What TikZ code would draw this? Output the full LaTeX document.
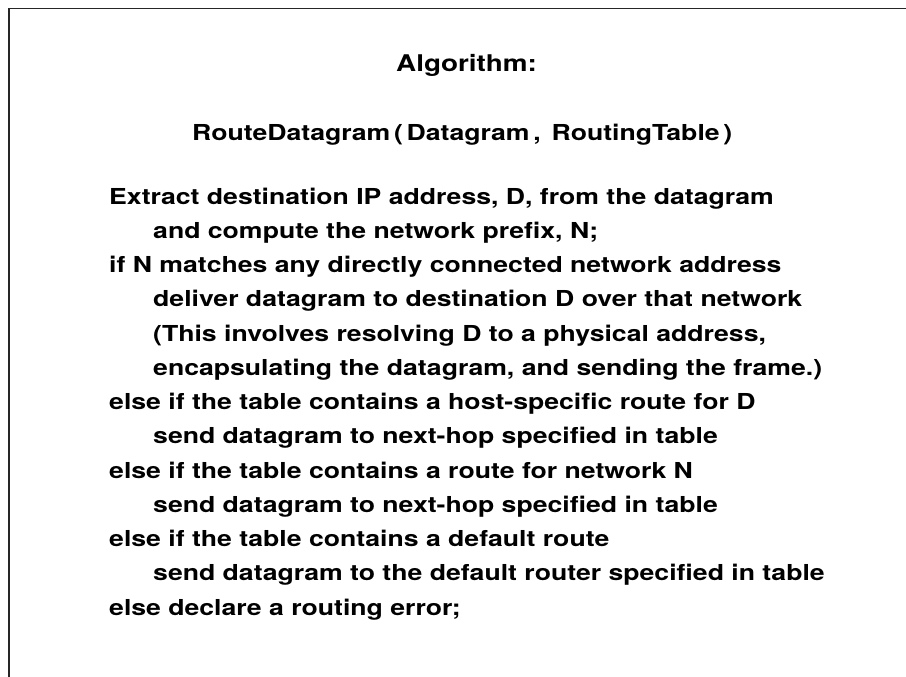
\documentclass[tikz,border=0pt]{standalone}
\usepackage{fontspec}
\setmainfont[FakeStretch=1.21]{TeX Gyre Heros}
\begin{document}
\begin{tikzpicture}[x=1pt,y=-1pt,
  txt/.style={inner sep=0pt,anchor=base west,font=\fontsize{22}{26}\selectfont\bfseries},
  head/.style={inner sep=0pt,anchor=base west,font=\fontsize{23}{27}\selectfont\bfseries},
  frame/.style={line width=1.4pt,black!85}]
\useasboundingbox (0,0) rectangle (906,677);
% open frame: top rule and left rule only
\coordinate (tl) at (9,8.5);
\coordinate (tr) at (906,8.5);
\coordinate (bl) at (9,677);
\draw[frame] (tr) -- (tl) -- (bl);
% heading
\node[head] (title) at (396,72) {Algorithm:};
\node[txt] (sig) at (192,140)
  {RouteDatagram\,(\,Datagram\,,\, RoutingTable\,)};
% body of the procedure
\def\lh{34.25}
\def\xa{109}
\def\xb{153}
\def\yo{204}
\node[txt] (l1)  at (\xa,\yo)           {Extract destination IP address, D, from the datagram};
\node[txt] (l2)  at (\xb,\yo+\lh)       {and compute the network prefix, N;};
\node[txt] (l3)  at (\xa,\yo+2*\lh)     {if N matches any directly connected network address};
\node[txt] (l4)  at (\xb,\yo+3*\lh)     {deliver datagram to destination D over that network};
\node[txt] (l5)  at (\xb,\yo+4*\lh)     {(This involves resolving D to a physical address,};
\node[txt] (l6)  at (\xb,\yo+5*\lh)     {encapsulating the datagram, and sending the frame.)};
\node[txt] (l7)  at (\xa,\yo+6*\lh)     {else if the table contains a host-specific route for D};
\node[txt] (l8)  at (\xb,\yo+7*\lh)     {send datagram to next-hop specified in table};
\node[txt] (l9)  at (\xa,\yo+8*\lh)     {else if the table contains a route for network N};
\node[txt] (l10) at (\xb,\yo+9*\lh)     {send datagram to next-hop specified in table};
\node[txt] (l11) at (\xa,\yo+10*\lh)    {else if the table contains a default route};
\node[txt] (l12) at (\xb,\yo+11*\lh)    {send datagram to the default router specified in table};
\node[txt] (l13) at (\xa,\yo+12*\lh)    {else declare a routing error;};
\end{tikzpicture}
\end{document}
